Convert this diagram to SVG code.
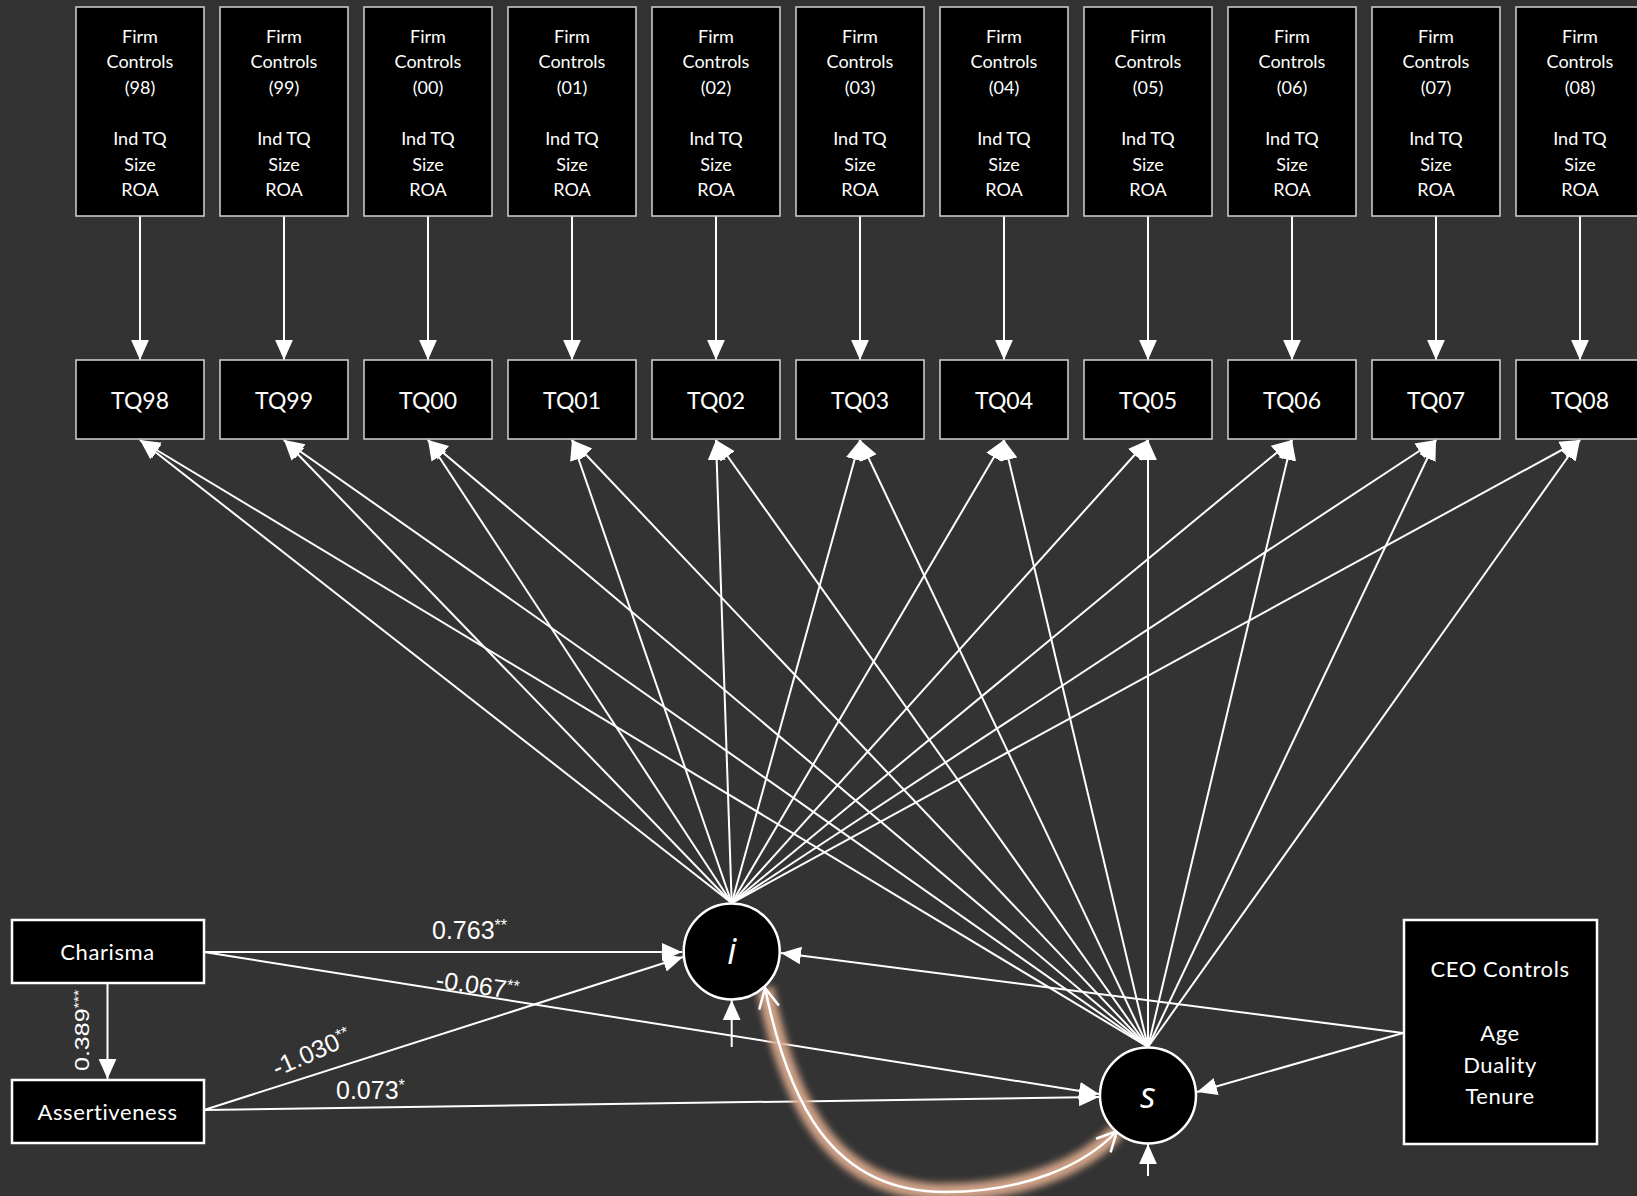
<svg xmlns="http://www.w3.org/2000/svg" width="1637" height="1196" viewBox="0 0 1637 1196">
<style>
.bg{fill:#333333}
.fbox{fill:#000;stroke:#c8c8c8;stroke-width:1.6}
.nbox{fill:#000;stroke:#fff;stroke-width:2.5}
.lat{fill:#000;stroke:#fff;stroke-width:2.5}
.t{font-family:Lato,"Open Sans","Liberation Sans",sans-serif;fill:#fff;text-anchor:middle}
.ft{font-size:18px}
.tq{font-size:23px}
.nt{font-size:22px;letter-spacing:0.6px}
.lt{font-family:"Open Sans",Lato,sans-serif;font-style:italic;font-size:36px;fill:#fff;text-anchor:middle}
.lab{font-family:"Liberation Sans",Arial,sans-serif;font-size:25px;fill:#fff}
.c{stroke:#fff;stroke-width:2;fill:none;marker-end:url(#ah)}
.cv{stroke:#fff;stroke-width:2.5;fill:none;marker-start:url(#oa);marker-end:url(#oa)}
</style>
<defs>
<marker id="ah" markerUnits="userSpaceOnUse" markerWidth="20" markerHeight="20" viewBox="0 0 18 16" refX="18" refY="8" orient="auto">
<path d="M0,0 L18,8 L0,16 z" fill="#fff"/>
</marker>
<marker id="oa" markerUnits="userSpaceOnUse" markerWidth="24" markerHeight="24" viewBox="-2 -12 24 24" refX="20" refY="0" orient="auto-start-reverse">
<path d="M0,-10 L20,0 L0,10" fill="none" stroke="#fff" stroke-width="2.5"/>
</marker>
<filter id="glow" x="-20%" y="-20%" width="140%" height="140%">
<feGaussianBlur stdDeviation="3.5"/>
</filter>
</defs>
<rect class="bg" x="0" y="0" width="1637" height="1196"/>

<g id="connectors">
<line class="c" x1="140" y1="216" x2="140" y2="360"/>
<line class="c" x1="284" y1="216" x2="284" y2="360"/>
<line class="c" x1="428" y1="216" x2="428" y2="360"/>
<line class="c" x1="572" y1="216" x2="572" y2="360"/>
<line class="c" x1="716" y1="216" x2="716" y2="360"/>
<line class="c" x1="860" y1="216" x2="860" y2="360"/>
<line class="c" x1="1004" y1="216" x2="1004" y2="360"/>
<line class="c" x1="1148" y1="216" x2="1148" y2="360"/>
<line class="c" x1="1292" y1="216" x2="1292" y2="360"/>
<line class="c" x1="1436" y1="216" x2="1436" y2="360"/>
<line class="c" x1="1580" y1="216" x2="1580" y2="360"/>
<line class="c" x1="731.7" y1="903" x2="140" y2="440"/>
<line class="c" x1="731.7" y1="903" x2="284" y2="440"/>
<line class="c" x1="731.7" y1="903" x2="428" y2="440"/>
<line class="c" x1="731.7" y1="903" x2="572" y2="440"/>
<line class="c" x1="731.7" y1="903" x2="716" y2="440"/>
<line class="c" x1="731.7" y1="903" x2="860" y2="440"/>
<line class="c" x1="731.7" y1="903" x2="1004" y2="440"/>
<line class="c" x1="731.7" y1="903" x2="1148" y2="440"/>
<line class="c" x1="731.7" y1="903" x2="1292" y2="440"/>
<line class="c" x1="731.7" y1="903" x2="1436" y2="440"/>
<line class="c" x1="731.7" y1="903" x2="1580" y2="440"/>
<line class="c" x1="1148" y1="1047" x2="140" y2="440"/>
<line class="c" x1="1148" y1="1047" x2="284" y2="440"/>
<line class="c" x1="1148" y1="1047" x2="428" y2="440"/>
<line class="c" x1="1148" y1="1047" x2="572" y2="440"/>
<line class="c" x1="1148" y1="1047" x2="716" y2="440"/>
<line class="c" x1="1148" y1="1047" x2="860" y2="440"/>
<line class="c" x1="1148" y1="1047" x2="1004" y2="440"/>
<line class="c" x1="1148" y1="1047" x2="1148" y2="440"/>
<line class="c" x1="1148" y1="1047" x2="1292" y2="440"/>
<line class="c" x1="1148" y1="1047" x2="1436" y2="440"/>
<line class="c" x1="1148" y1="1047" x2="1580" y2="440"/>
<line class="c" x1="107.5" y1="983" x2="107.5" y2="1079"/>
<line class="c" x1="204" y1="952" x2="682" y2="952"/>
<line class="c" x1="204" y1="952" x2="1099" y2="1094"/>
<line class="c" x1="204" y1="1110" x2="683" y2="957"/>
<line class="c" x1="204" y1="1110" x2="1099" y2="1097"/>
<line class="c" x1="1403" y1="1033" x2="781" y2="953"/>
<line class="c" x1="1403" y1="1033" x2="1197" y2="1092"/>
<line class="c" x1="731.7" y1="1047" x2="731.7" y2="1000"/>
<line class="c" x1="1148" y1="1176" x2="1148" y2="1144"/>
<path d="M765,988 C788,1100 830,1192 945,1192 C1025,1192 1085,1165 1117,1131" fill="none" stroke="#d8a88c" stroke-width="17" opacity="0.95" filter="url(#glow)"/>
<path class="cv" d="M765,988 C788,1100 830,1192 945,1192 C1025,1192 1085,1165 1117,1131"/>
</g>

<g id="labels">
<text class="lab" x="432" y="939">0.763<tspan font-size="16" dy="-8">**</tspan></text>
<text class="lab" transform="translate(435,988) rotate(8)">-0.067<tspan font-size="16" dy="-8">**</tspan></text>
<text class="lab" transform="translate(277,1077) rotate(-24)">-1.030<tspan font-size="16" dy="-8">**</tspan></text>
<text class="lab" x="336" y="1099">0.073<tspan font-size="16" dy="-8">*</tspan></text>
<text class="lab" transform="translate(89,1071) rotate(-90) scale(1,0.78)">0.389<tspan font-size="16" dy="-8">***</tspan></text>
</g>

<g id="fc98"><rect class="fbox" x="76" y="7" width="128" height="209"/><text class="t ft"><tspan x="140" y="43">Firm</tspan><tspan x="140" y="68">Controls</tspan><tspan x="140" y="94">(98)</tspan><tspan x="140" y="145">Ind TQ</tspan><tspan x="140" y="171">Size</tspan><tspan x="140" y="196">ROA</tspan></text></g>
<g id="fc99"><rect class="fbox" x="220" y="7" width="128" height="209"/><text class="t ft"><tspan x="284" y="43">Firm</tspan><tspan x="284" y="68">Controls</tspan><tspan x="284" y="94">(99)</tspan><tspan x="284" y="145">Ind TQ</tspan><tspan x="284" y="171">Size</tspan><tspan x="284" y="196">ROA</tspan></text></g>
<g id="fc00"><rect class="fbox" x="364" y="7" width="128" height="209"/><text class="t ft"><tspan x="428" y="43">Firm</tspan><tspan x="428" y="68">Controls</tspan><tspan x="428" y="94">(00)</tspan><tspan x="428" y="145">Ind TQ</tspan><tspan x="428" y="171">Size</tspan><tspan x="428" y="196">ROA</tspan></text></g>
<g id="fc01"><rect class="fbox" x="508" y="7" width="128" height="209"/><text class="t ft"><tspan x="572" y="43">Firm</tspan><tspan x="572" y="68">Controls</tspan><tspan x="572" y="94">(01)</tspan><tspan x="572" y="145">Ind TQ</tspan><tspan x="572" y="171">Size</tspan><tspan x="572" y="196">ROA</tspan></text></g>
<g id="fc02"><rect class="fbox" x="652" y="7" width="128" height="209"/><text class="t ft"><tspan x="716" y="43">Firm</tspan><tspan x="716" y="68">Controls</tspan><tspan x="716" y="94">(02)</tspan><tspan x="716" y="145">Ind TQ</tspan><tspan x="716" y="171">Size</tspan><tspan x="716" y="196">ROA</tspan></text></g>
<g id="fc03"><rect class="fbox" x="796" y="7" width="128" height="209"/><text class="t ft"><tspan x="860" y="43">Firm</tspan><tspan x="860" y="68">Controls</tspan><tspan x="860" y="94">(03)</tspan><tspan x="860" y="145">Ind TQ</tspan><tspan x="860" y="171">Size</tspan><tspan x="860" y="196">ROA</tspan></text></g>
<g id="fc04"><rect class="fbox" x="940" y="7" width="128" height="209"/><text class="t ft"><tspan x="1004" y="43">Firm</tspan><tspan x="1004" y="68">Controls</tspan><tspan x="1004" y="94">(04)</tspan><tspan x="1004" y="145">Ind TQ</tspan><tspan x="1004" y="171">Size</tspan><tspan x="1004" y="196">ROA</tspan></text></g>
<g id="fc05"><rect class="fbox" x="1084" y="7" width="128" height="209"/><text class="t ft"><tspan x="1148" y="43">Firm</tspan><tspan x="1148" y="68">Controls</tspan><tspan x="1148" y="94">(05)</tspan><tspan x="1148" y="145">Ind TQ</tspan><tspan x="1148" y="171">Size</tspan><tspan x="1148" y="196">ROA</tspan></text></g>
<g id="fc06"><rect class="fbox" x="1228" y="7" width="128" height="209"/><text class="t ft"><tspan x="1292" y="43">Firm</tspan><tspan x="1292" y="68">Controls</tspan><tspan x="1292" y="94">(06)</tspan><tspan x="1292" y="145">Ind TQ</tspan><tspan x="1292" y="171">Size</tspan><tspan x="1292" y="196">ROA</tspan></text></g>
<g id="fc07"><rect class="fbox" x="1372" y="7" width="128" height="209"/><text class="t ft"><tspan x="1436" y="43">Firm</tspan><tspan x="1436" y="68">Controls</tspan><tspan x="1436" y="94">(07)</tspan><tspan x="1436" y="145">Ind TQ</tspan><tspan x="1436" y="171">Size</tspan><tspan x="1436" y="196">ROA</tspan></text></g>
<g id="fc08"><rect class="fbox" x="1516" y="7" width="128" height="209"/><text class="t ft"><tspan x="1580" y="43">Firm</tspan><tspan x="1580" y="68">Controls</tspan><tspan x="1580" y="94">(08)</tspan><tspan x="1580" y="145">Ind TQ</tspan><tspan x="1580" y="171">Size</tspan><tspan x="1580" y="196">ROA</tspan></text></g>

<g id="tq98"><rect class="fbox" x="76" y="360" width="128" height="79"/><text class="t tq" x="140" y="409">TQ98</text></g>
<g id="tq99"><rect class="fbox" x="220" y="360" width="128" height="79"/><text class="t tq" x="284" y="409">TQ99</text></g>
<g id="tq00"><rect class="fbox" x="364" y="360" width="128" height="79"/><text class="t tq" x="428" y="409">TQ00</text></g>
<g id="tq01"><rect class="fbox" x="508" y="360" width="128" height="79"/><text class="t tq" x="572" y="409">TQ01</text></g>
<g id="tq02"><rect class="fbox" x="652" y="360" width="128" height="79"/><text class="t tq" x="716" y="409">TQ02</text></g>
<g id="tq03"><rect class="fbox" x="796" y="360" width="128" height="79"/><text class="t tq" x="860" y="409">TQ03</text></g>
<g id="tq04"><rect class="fbox" x="940" y="360" width="128" height="79"/><text class="t tq" x="1004" y="409">TQ04</text></g>
<g id="tq05"><rect class="fbox" x="1084" y="360" width="128" height="79"/><text class="t tq" x="1148" y="409">TQ05</text></g>
<g id="tq06"><rect class="fbox" x="1228" y="360" width="128" height="79"/><text class="t tq" x="1292" y="409">TQ06</text></g>
<g id="tq07"><rect class="fbox" x="1372" y="360" width="128" height="79"/><text class="t tq" x="1436" y="409">TQ07</text></g>
<g id="tq08"><rect class="fbox" x="1516" y="360" width="128" height="79"/><text class="t tq" x="1580" y="409">TQ08</text></g>

<g id="charisma"><rect class="nbox" x="12" y="920" width="192" height="63"/><text class="t nt" x="107.5" y="960">Charisma</text></g>
<g id="assertiveness"><rect class="nbox" x="12" y="1080" width="192" height="63"/><text class="t nt" x="107.5" y="1120">Assertiveness</text></g>
<g id="ceo"><rect class="nbox" x="1404" y="920" width="193" height="224"/><text class="t nt"><tspan x="1500" y="977">CEO Controls</tspan><tspan x="1500" y="1041">Age</tspan><tspan x="1500" y="1073">Duality</tspan><tspan x="1500" y="1104">Tenure</tspan></text></g>
<g id="i"><circle class="lat" cx="731.7" cy="951.5" r="48"/><text class="lt" x="731.7" y="964">i</text></g>
<g id="s"><circle class="lat" cx="1148" cy="1095.5" r="48"/><text class="lt" x="1148" y="1108">s</text></g>
</svg>
